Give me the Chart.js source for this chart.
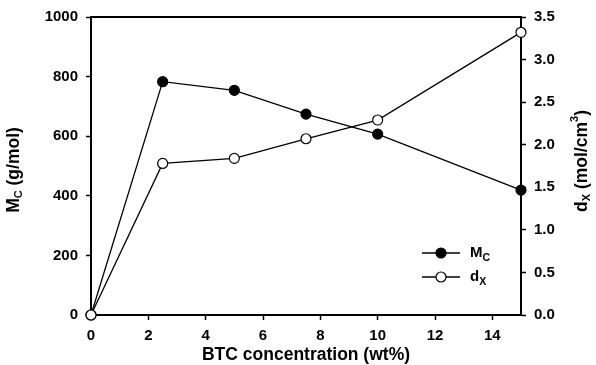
<!DOCTYPE html>
<html>
<head>
<meta charset="utf-8">
<script src="https://cdn.jsdelivr.net/npm/chart.js@4.4.1/dist/chart.umd.min.js"></script>
<style>
  html, body { margin: 0; padding: 0; background: #fff; }
  #wrap { width: 596px; height: 365px; position: relative; }
</style>
</head>
<body>
<div id="wrap"><canvas id="chart"></canvas></div>
<script>
const concentration = [0, 2.5, 5, 7.5, 10, 15];
const mcValues = [0, 783, 754, 674, 607, 419];
const dxValues = [0, 1.78, 1.84, 2.07, 2.29, 3.32];
const xTicks = [0, 2, 4, 6, 8, 10, 12, 14];
const leftTicks = [0, 200, 400, 600, 800, 1000];
const rightTicks = [0, 0.5, 1.0, 1.5, 2.0, 2.5, 3.0, 3.5];

const FONT = '"Liberation Sans", Arial, sans-serif';

function toPoints(xs, ys) {
    return xs.map(function(x, i) { return { x: x, y: ys[i] }; });
}

// draw a row of text pieces (for subscripts / superscripts)
function drawRich(ctx, parts, x, y, rot, align) {
    ctx.save();
    ctx.translate(x, y);
    ctx.rotate(rot);
    ctx.textBaseline = 'middle';
    ctx.textAlign = 'left';
    ctx.fillStyle = '#000';
    let total = 0;
    parts.forEach(function(p) {
        ctx.font = 'bold ' + p.size + 'px ' + FONT;
        p.w = ctx.measureText(p.text).width;
        total += p.w;
    });
    let cx = align === 'left' ? 0 : -total / 2;
    parts.forEach(function(p) {
        ctx.font = 'bold ' + p.size + 'px ' + FONT;
        ctx.fillText(p.text, cx, p.dy || 0);
        cx += p.w;
    });
    ctx.restore();
}

const decorations = {
    id: 'decorations',
    afterDraw: function(chart) {
        const ctx = chart.ctx;
        const a = chart.chartArea;

        // top frame line
        ctx.save();
        ctx.strokeStyle = '#000';
        ctx.lineWidth = 2;
        ctx.beginPath();
        ctx.moveTo(a.left - 1, a.top);
        ctx.lineTo(a.right + 1, a.top);
        ctx.stroke();
        ctx.restore();

        // axis titles
        drawRich(ctx, [{ text: 'BTC concentration (wt%)', size: 17.5 }], (a.left + a.right) / 2, 355, 0);
        drawRich(ctx, [
            { text: 'M', size: 17.5 },
            { text: 'C', size: 11, dy: 5 },
            { text: ' (g/mol)', size: 17.5 }
        ], 14, 170, -Math.PI / 2);
        drawRich(ctx, [
            { text: 'd', size: 17.5 },
            { text: 'X', size: 11, dy: 5 },
            { text: ' (mol/cm', size: 17.5 },
            { text: '3', size: 11, dy: -7 },
            { text: ')', size: 17.5 }
        ], 582, 161, -Math.PI / 2);

        // legend
        const rows = [
            { fill: '#000', label: 'M', sub: 'C', y: 253 },
            { fill: '#fff', label: 'd', sub: 'X', y: 277 }
        ];
        rows.forEach(function(r) {
            ctx.save();
            ctx.strokeStyle = '#000';
            ctx.lineWidth = 1.3;
            ctx.beginPath();
            ctx.moveTo(422, r.y);
            ctx.lineTo(460, r.y);
            ctx.stroke();
            ctx.beginPath();
            ctx.arc(441, r.y, 5, 0, Math.PI * 2);
            ctx.fillStyle = r.fill;
            ctx.fill();
            ctx.lineWidth = 1.2;
            ctx.stroke();
            ctx.restore();
            drawRich(ctx, [
                { text: r.label, size: 15 },
                { text: r.sub, size: 10.5, dy: 5 }
            ], 470, r.y, 0, 'left');
        });
    }
};

const tickFont = { family: FONT, size: 15, weight: 'bold' };

const ctx = document.getElementById('chart').getContext('2d');
new Chart(ctx, {
    type: 'scatter',
    data: {
        datasets: [
            {
                label: 'Mc',
                data: toPoints(concentration, mcValues),
                yAxisID: 'y',
                showLine: true,
                borderColor: '#000',
                borderWidth: 1.3,
                pointRadius: 5,
                pointBackgroundColor: '#000',
                pointBorderColor: '#000',
                pointBorderWidth: 1.2,
                clip: false,
                order: 1
            },
            {
                label: 'dx',
                data: toPoints(concentration, dxValues),
                yAxisID: 'y1',
                showLine: true,
                borderColor: '#000',
                borderWidth: 1.3,
                pointRadius: 5,
                pointBackgroundColor: '#fff',
                pointBorderColor: '#000',
                pointBorderWidth: 1.2,
                clip: false,
                order: 0
            }
        ]
    },
    options: {
        responsive: true,
        maintainAspectRatio: false,
        animation: false,
        layout: { padding: { top: 17, left: 0, right: 0, bottom: 0 } },
        plugins: {
            legend: { display: false },
            tooltip: { enabled: false }
        },
        scales: {
            x: {
                type: 'linear',
                min: 0,
                max: 15,
                afterBuildTicks: function(s) { s.ticks = xTicks.map(function(v) { return { value: v }; }); },
                afterFit: function(s) { s.height = 50; },
                ticks: {
                    font: tickFont, color: '#000', padding: 7, maxRotation: 0,
                    callback: function(v) { return String(v); }
                },
                grid: { display: true, drawOnChartArea: false, tickLength: 5, tickColor: '#000', tickWidth: 1.5 },
                border: { display: true, color: '#000', width: 2 }
            },
            y: {
                position: 'left',
                min: 0,
                max: 1000,
                afterBuildTicks: function(s) { s.ticks = leftTicks.map(function(v) { return { value: v }; }); },
                afterFit: function(s) { s.width = 91; },
                ticks: {
                    font: tickFont, color: '#000', padding: 8,
                    callback: function(v) { return String(v); }
                },
                grid: { display: true, drawOnChartArea: false, tickLength: 5, tickColor: '#000', tickWidth: 1.5 },
                border: { display: true, color: '#000', width: 2 }
            },
            y1: {
                position: 'right',
                min: 0,
                max: 3.5,
                afterBuildTicks: function(s) { s.ticks = rightTicks.map(function(v) { return { value: v }; }); },
                afterFit: function(s) { s.width = 75; },
                ticks: {
                    font: tickFont, color: '#000', padding: 8,
                    callback: function(v) { return Number(v).toFixed(1); }
                },
                grid: { display: true, drawOnChartArea: false, tickLength: 5, tickColor: '#000', tickWidth: 1.5 },
                border: { display: true, color: '#000', width: 2 }
            }
        }
    },
    plugins: [decorations]
});
</script>
</body>
</html>
